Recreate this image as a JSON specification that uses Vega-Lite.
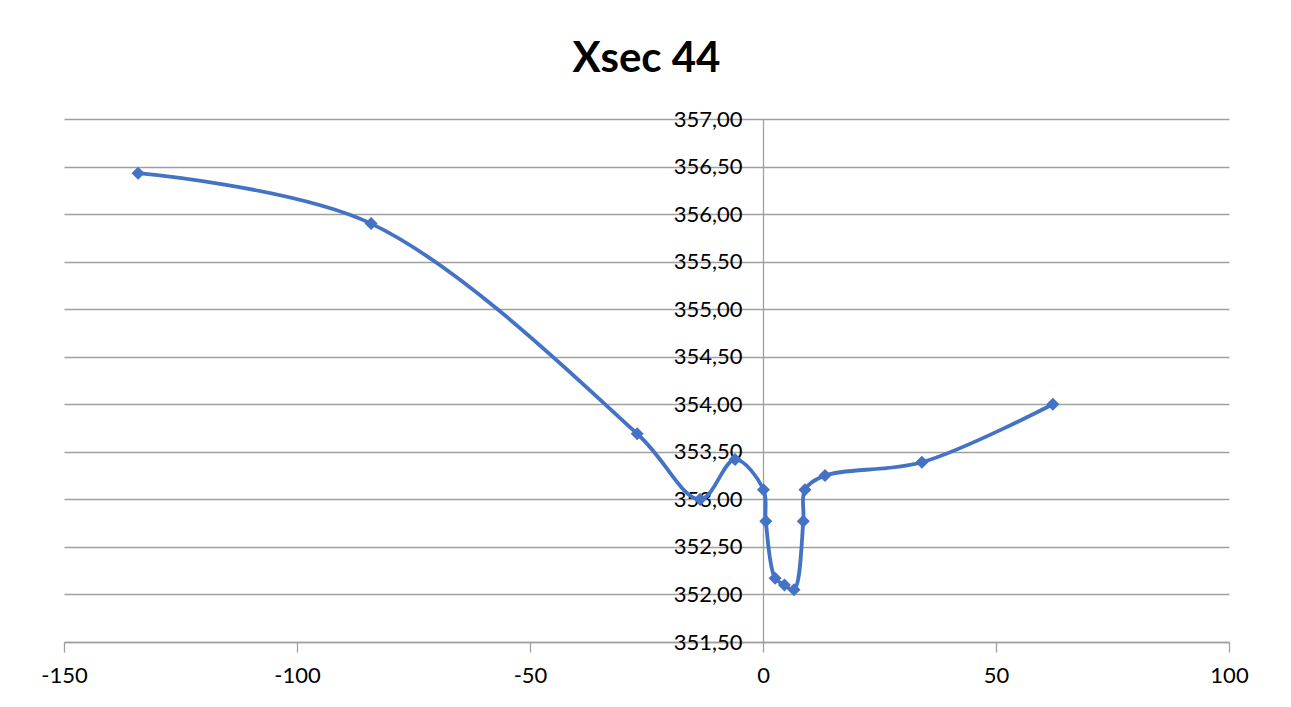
{
  "$schema": "https://vega.github.io/schema/vega-lite/v6.json",
  "width": 1165,
  "height": 523,
  "autosize": {"type": "none"},
  "padding": {"left": 64, "top": 119, "right": 62, "bottom": 65},
  "background": "white",
  "title": {"text": "Xsec 44", "fontSize": 42, "font": "Lato", "fontWeight": "bold", "color": "#000000", "anchor": "middle", "offset": 27},
  "config": {"view": {"stroke": null}, "font": "Lato"},
  "data": {"values": [
    {"x": -134.1, "y": 356.43},
    {"x": -84.1, "y": 355.90},
    {"x": -27.0, "y": 353.69},
    {"x": -13.5, "y": 353.00},
    {"x": -6.0, "y": 353.42},
    {"x": 0.1, "y": 353.10},
    {"x": 0.6, "y": 352.77},
    {"x": 2.6, "y": 352.17},
    {"x": 4.6, "y": 352.10},
    {"x": 6.65, "y": 352.05},
    {"x": 8.65, "y": 352.77},
    {"x": 9.0, "y": 353.10},
    {"x": 13.3, "y": 353.25},
    {"x": 34.1, "y": 353.39},
    {"x": 62.2, "y": 354.00}
  ]},
  "encoding": {
    "x": {"field": "x", "type": "quantitative", "scale": {"domain": [-150, 100], "nice": false, "zero": false},
      "axis": {"title": null, "values": [-150, -100, -50, 0, 50, 100], "labelExpr": "'' + datum.value", "labelFlush": false, "grid": false, "domainColor": "#a0a0a0", "tickColor": "#a0a0a0", "tickSize": 10, "labelPadding": 13, "labelFontSize": 22, "labelColor": "#000000", "labelFont": "Lato", "domainWidth": 1.3, "tickWidth": 1.3}},
    "y": {"field": "y", "type": "quantitative", "scale": {"domain": [351.5, 357], "nice": false, "zero": false},
      "axis": {"title": null, "values": [351.5, 352, 352.5, 353, 353.5, 354, 354.5, 355, 355.5, 356, 356.5, 357], "offset": -699, "grid": true, "gridColor": "#a0a0a0", "gridWidth": 1.3, "ticks": false, "tickSize": 0, "labelPadding": 21, "labelFlush": false, "domainColor": "#a0a0a0", "domainWidth": 1.3, "labelFontSize": 22, "labelColor": "#000000", "labelFont": "Lato", "labelExpr": "replace(format(datum.value, '.2f'), '.', ',')"}}
  },
  "layer": [
    {"mark": {"type": "line", "interpolate": "catmull-rom", "color": "#4472C4", "strokeWidth": 3.8}},
    {"mark": {"type": "point", "shape": "diamond", "filled": true, "color": "#4472C4", "size": 170, "opacity": 1}}
  ]
}
